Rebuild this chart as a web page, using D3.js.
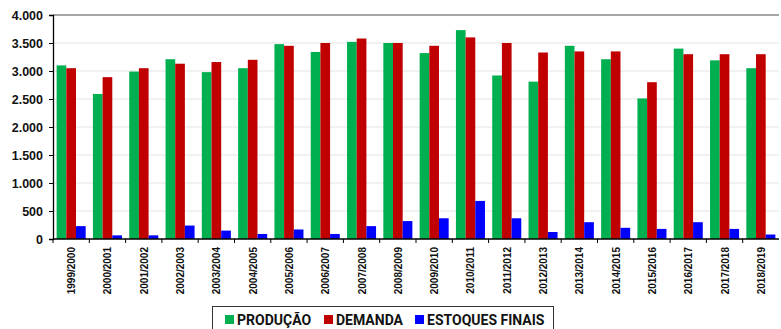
<!DOCTYPE html>
<html>
<head>
<meta charset="utf-8">
<script src="https://cdn.jsdelivr.net/npm/d3@7"></script>
<style>
  body { margin: 0; background: #fff; }
  svg { display: block; font-family: Roboto, "Liberation Sans", Arial, sans-serif; }
</style>
</head>
<body>
<div id="chart"></div>
<script>
// safras (eixo x)
var safras = ["1999/2000", "2000/2001", "2001/2002", "2002/2003", "2003/2004",
  "2004/2005", "2005/2006", "2006/2007", "2007/2008", "2008/2009",
  "2009/2010", "2010/2011", "2011/2012", "2012/2013", "2013/2014",
  "2014/2015", "2015/2016", "2016/2017", "2017/2018", "2018/2019"];

var producao = [3100, 2590, 2990, 3210, 2980, 3050, 3480, 3340, 3520, 3500,
  3320, 3730, 2920, 2810, 3450, 3210, 2510, 3400, 3190, 3050];
var demanda = [3050, 2890, 3050, 3130, 3160, 3200, 3450, 3500, 3580, 3500,
  3450, 3600, 3500, 3330, 3350, 3350, 2800, 3300, 3300, 3300];
var estoques = [230, 65, 65, 240, 150, 90, 170, 90, 230, 320,
  370, 680, 370, 125, 300, 200, 180, 300, 180, 80];

var series = ["PRODUÇÃO", "DEMANDA", "ESTOQUES FINAIS"];
var colors = ["#00b050", "#c00000", "#0000ff"];
var yTicks = [0, 500, 1000, 1500, 2000, 2500, 3000, 3500, 4000];

var w = 781, h = 329;
var margin = { top: 15, right: 2, bottom: 90, left: 53 };

var svg = d3.select("#chart").append("svg")
  .attr("width", w)
  .attr("height", h);

var x = d3.scaleBand()
  .domain(safras)
  .range([margin.left, w - margin.right])
  .paddingInner(0.2)
  .paddingOuter(0.1);

// x offset inside each group
var xs = d3.scaleBand()
  .domain(series)
  .range([0, x.bandwidth()]);

var y = d3.scaleLinear()
  .domain([0, 4000])
  .range([h - margin.bottom, margin.top]);

var fmt = function(d) { return d3.format(",")(d).replace(/,/g, "."); };

// gridlines
svg.append("g")
  .selectAll("line")
  .data(yTicks.slice(1))
  .join("line")
  .attr("x1", margin.left)
  .attr("x2", w - margin.right)
  .attr("y1", function(d) { return y(d); })
  .attr("y2", function(d) { return y(d); })
  .attr("stroke", function(d) { return d == 4000 ? "#a6a6a6" : "#e3e3e3"; })
  .attr("stroke-width", function(d) { return d == 4000 ? 2 : 1; });

// bars
var table = safras.map(function(s, i) {
  return { safra: s, vals: [producao[i], demanda[i], estoques[i]] };
});

var groups = svg.append("g")
  .selectAll("g")
  .data(table)
  .join("g")
  .attr("transform", function(d) { return "translate(" + x(d.safra) + ",0)"; });

groups.selectAll("rect")
  .data(function(d) { return d.vals.map(function(v, j) { return { s: series[j], v: v, c: colors[j] }; }); })
  .join("rect")
  .attr("x", function(d) { return xs(d.s); })
  .attr("width", xs.bandwidth())
  .attr("y", function(d) { return y(d.v); })
  .attr("height", function(d) { return y(0) - y(d.v); })
  .attr("fill", function(d) { return d.c; });

// y axis
var yAxis = svg.append("g")
  .attr("transform", "translate(" + margin.left + ",0)")
  .call(d3.axisLeft(y).tickValues(yTicks).tickFormat(fmt).tickSize(4).tickPadding(6));
yAxis.select(".domain").attr("stroke", "#000").attr("stroke-width", 1.3);
yAxis.selectAll(".tick line").attr("stroke", "#000");
yAxis.selectAll("text")
  .attr("font-size", 12.5)
  .attr("font-weight", "bold")
  .attr("font-family", "'Liberation Sans', Arial, sans-serif")
  .attr("fill", "#111");

// x axis: ticks between categories
var xAxisG = svg.append("g")
  .attr("transform", "translate(0," + y(0) + ")");
xAxisG.append("line")
  .attr("x1", margin.left).attr("x2", w - margin.right)
  .attr("stroke", "#000").attr("stroke-width", 1.3);
xAxisG.selectAll(".sep")
  .data(safras)
  .join("line")
  .attr("class", "sep")
  .attr("x1", function(d) { return x(d) - x.step() * x.paddingInner() / 2; })
  .attr("x2", function(d) { return x(d) - x.step() * x.paddingInner() / 2; })
  .attr("y1", 0).attr("y2", 4)
  .attr("stroke", "#000");

xAxisG.selectAll(".lbl")
  .data(safras)
  .join("text")
  .attr("class", "lbl")
  .attr("transform", function(d) {
    return "translate(" + (x(d) + x.bandwidth() / 2 + 4) + ",8) rotate(-90)";
  })
  .attr("text-anchor", "end")
  .attr("font-size", 10)
  .attr("font-weight", "bold")
  .attr("font-family", "'Liberation Sans', Arial, sans-serif")
  .attr("fill", "#111")
  .text(function(d) { return d; });

// legend
var lg = svg.append("g");
lg.append("rect")
  .attr("x", 212.5).attr("y", 306.5)
  .attr("width", 341).attr("height", 30)
  .attr("fill", "#fff")
  .attr("stroke", "#333");

var legX = [225, 324, 415];
series.forEach(function(s, i) {
  lg.append("rect")
    .attr("x", legX[i]).attr("y", 315)
    .attr("width", 9).attr("height", 9)
    .attr("fill", colors[i]);
  lg.append("text")
    .attr("x", legX[i] + 12).attr("y", 324.5)
    .attr("font-size", 14)
    .attr("font-weight", "bold")
    .attr("fill", "#111")
    .text(s);
});
</script>
</body>
</html>
